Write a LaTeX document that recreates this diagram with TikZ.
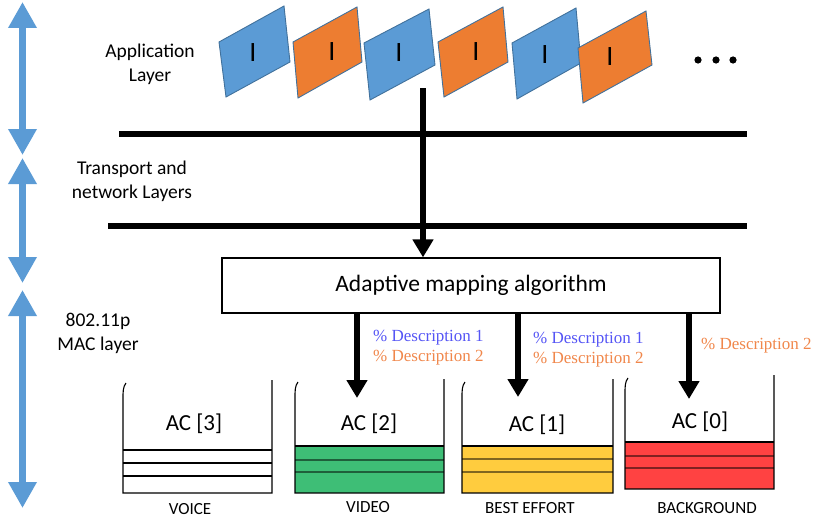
\documentclass[tikz,border=0pt]{standalone}
\usepackage{fontspec}
\setmainfont{Carlito}
\newfontfamily\descfont{Liberation Serif}
\usetikzlibrary{arrows.meta}
\definecolor{pblue}{HTML}{5B9BD5}
\definecolor{porange}{HTML}{ED7D31}
\definecolor{pedge}{HTML}{41719C}
\definecolor{qgreen}{HTML}{3EBE76}
\definecolor{qyellow}{HTML}{FFCC3E}
\definecolor{qred}{HTML}{FF4242}
\definecolor{dblue}{RGB}{85,85,245}
\definecolor{dorange}{RGB}{240,135,75}
\begin{document}
\begin{tikzpicture}[x=1pt,y=-1pt,
  layerarrow/.style={draw=pblue, line width=7pt, {Triangle[width=27pt,length=26pt]}-{Triangle[width=27pt,length=26pt]}},
  sepline/.style={line width=6.5pt},
  flowarrow/.style={line width=6pt, -{Triangle[width=20pt,length=18pt]}},
  packetblue/.style={fill=pblue, draw=pedge, line width=0.9pt},
  packetorange/.style={fill=porange, draw=pedge, line width=0.9pt},
  itext/.style={font=\fontsize{28}{30}\selectfont, inner sep=0pt},
  layertext/.style={font=\fontsize{19.5}{24}\selectfont, align=center, inner sep=0pt},
  actext/.style={font=\fontsize{23}{26}\selectfont, inner sep=0pt},
  qlabel/.style={font=\fontsize{17}{20}\selectfont, inner sep=0pt},
  desc/.style={font=\descfont\fontsize{17}{20}\selectfont, align=left, inner sep=0pt, anchor=west},
  qline/.style={line width=1.1pt},
]
\useasboundingbox (0,0) rectangle (816,519);

% left layer arrows
\coordinate (a1t) at (22.5,2);   \coordinate (a1b) at (22.5,155);
\coordinate (a2t) at (22.5,158); \coordinate (a2b) at (22.5,283);
\coordinate (a3t) at (22.5,290); \coordinate (a3b) at (22.5,508);
\draw[layerarrow] (a1t) -- (a1b);
\draw[layerarrow] (a2t) -- (a2b);
\draw[layerarrow] (a3t) -- (a3b);

% layer labels
\node[layertext] (app) at (150,64) {Application\\Layer};
\node[layertext] (trans) at (132,181.5) {Transport and\\network Layers};
\node[layertext] (mac) at (98,333.5) {802.11p\\MAC layer};

% separator lines
\draw[sepline] (119,134) -- (747,134);
\draw[sepline] (108,226) -- (747,226);

% packets
\draw[packetblue]   (219,42) -- (284,6) -- (290,62) -- (226,97) -- cycle;
\draw[packetorange] (293,42) -- (357,7) -- (362,62) -- (298,98) -- cycle;
\draw[packetblue]   (364,43) -- (429,9) -- (435,65) -- (370,100) -- cycle;
\draw[packetorange] (438,42) -- (503,7) -- (508,62) -- (444,97) -- cycle;
\draw[packetblue]   (512,43) -- (576,8) -- (581,63) -- (517,99) -- cycle;
\draw[packetorange] (578,48) -- (646,11) -- (652,65) -- (583,103) -- cycle;
\node[itext] (i1) at (253,53) {I};
\node[itext] (i2) at (332,52) {I};
\node[itext] (i3) at (399,53) {I};
\node[itext] (i4) at (476,52) {I};
\node[itext] (i5) at (545,55) {I};
\node[itext] (i6) at (610,57) {I};
\fill (698,60) circle (3.6pt) (716,60) circle (3.6pt) (733,60) circle (3.6pt);

% mapping box
\node[draw, line width=1.2pt, minimum width=498pt, minimum height=55pt,
      font=\fontsize{23.5}{28}\selectfont] (algo) at (471,285.5) {Adaptive mapping algorithm};
\coordinate (src) at (423,88);
\draw[flowarrow] (src) -- (src |- algo.north);

% arrows to queues
\coordinate (t2) at (357,398);
\coordinate (t1) at (518,397);
\coordinate (t0) at (689,399);
\draw[flowarrow] (algo.south -| t2) -- (t2);
\draw[flowarrow] (algo.south -| t1) -- (t1);
\draw[flowarrow] (algo.south -| t0) -- (t0);

% descriptions
\node[desc] (d2) at (373,348) {\textcolor{dblue}{\% Description 1}\\\textcolor{dorange}{\% Description 2}};
\node[desc] (d1) at (533,350) {\textcolor{dblue}{\% Description 1}\\\textcolor{dorange}{\% Description 2}};
\node[desc] (d0) at (701,346) {\textcolor{dorange}{\% Description 2}};

% queue AC[3] voice
\draw[qline] (123,450) -- (272,450);
\draw[qline] (123,463) -- (272,463);
\draw[qline] (123,476) -- (272,476);
\draw[qline] (126,383) .. controls (123,387) and (123,391) .. (123,399) -- (123,493) -- (272,493) -- (272,380);

% queue AC[2] video
\fill[qgreen] (295,446) rectangle (444,493);
\draw[qline, qgreen!50!black] (295,460) -- (444,460);
\draw[qline, qgreen!50!black] (295,472) -- (444,472);
\draw[qline] (295,446) -- (444,446);
\draw[qline] (298,382) .. controls (295,386) and (295,390) .. (295,398) -- (295,493) -- (444,493) -- (444,379);

% queue AC[1] best effort
\fill[qyellow] (462,446) rectangle (613,493);
\draw[qline, qyellow!50!black] (462,459) -- (613,459);
\draw[qline, qyellow!50!black] (462,472) -- (613,472);
\draw[qline] (462,446) -- (613,446);
\draw[qline] (465,382) .. controls (462,386) and (462,390) .. (462,398) -- (462,493) -- (613,493) -- (613,379);

% queue AC[0] background
\fill[qred] (625,442) rectangle (774,489);
\draw[qline, qred!50!black] (625,456) -- (774,456);
\draw[qline, qred!50!black] (625,468) -- (774,468);
\draw[qline] (625,442) -- (774,442);
\draw[qline] (628,378) .. controls (625,382) and (625,386) .. (625,394) -- (625,489) -- (774,489) -- (774,375);

% queue texts
\node[actext] (ac3) at (194,424) {AC [3]};
\node[actext] (ac2) at (369,424) {AC [2]};
\node[actext] (ac1) at (537,425) {AC [1]};
\node[actext] (ac0) at (700,422) {AC [0]};
\node[qlabel] (voice) at (190,509) {VOICE};
\node[qlabel] (video) at (368,507) {VIDEO};
\node[qlabel] (be) at (530,508) {BEST EFFORT};
\node[qlabel] (bg) at (707,508) {BACKGROUND};
\end{tikzpicture}
\end{document}
